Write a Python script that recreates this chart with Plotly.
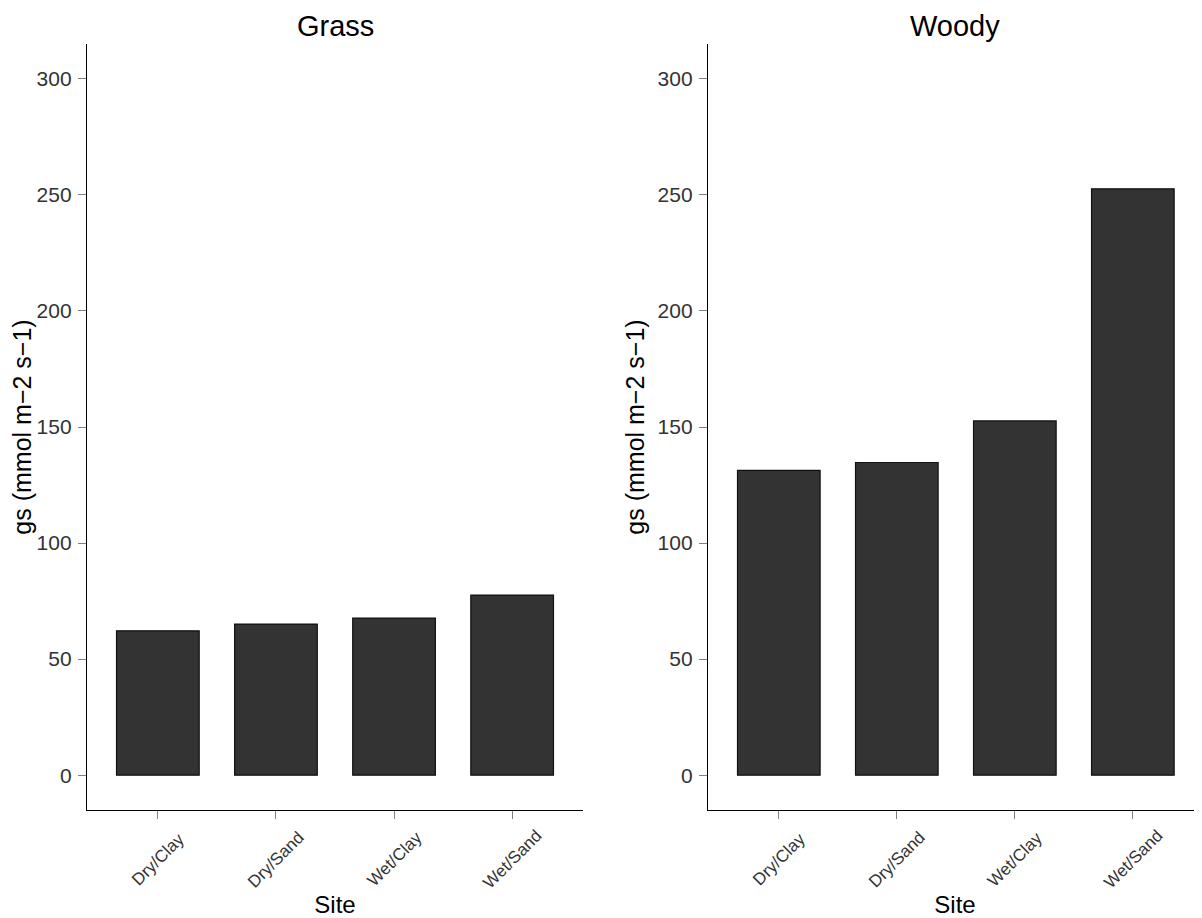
import plotly.graph_objects as go

sites = ["Dry/Clay", "Dry/Sand", "Wet/Clay", "Wet/Sand"]
grass_gs = [62.2, 65.1, 67.7, 77.6]
woody_gs = [131.3, 134.7, 152.6, 252.6]
panel_titles = ["Grass", "Woody"]
y_ticks = [0, 50, 100, 150, 200, 250, 300]
x_title = "Site"
y_title = "gs (mmol m\u22122 s\u22121)"

# page has an 8px body margin; figure sized to fill the rest of the window
OFF = 8
W, H = 1202 - OFF, 918 - OFF
FONT = "Liberation Sans, Arial, sans-serif"


def py(page_y):
    """page pixel y -> paper fraction"""
    return (H - (page_y - OFF)) / H


fig = go.Figure()
for vals, xa, ya in [(grass_gs, "x", "y"), (woody_gs, "x2", "y2")]:
    fig.add_trace(go.Bar(x=sites, y=vals, width=0.7, xaxis=xa, yaxis=ya,
                         marker=dict(color="#333333", line=dict(color="#111111", width=1.2)),
                         showlegend=False))

ydom = [py(810), py(44)]
xdom1 = [(87 - OFF) / W, (583 - OFF) / W]
xdom2 = [(708 - OFF) / W, 1.0]

xcommon = dict(type="category", showline=True, linecolor="black", linewidth=1.3,
               ticks="outside", ticklen=8, tickcolor="#7f7f7f", tickwidth=1.3,
               showticklabels=False, showgrid=False, zeroline=False,
               title=dict(text=x_title, font=dict(family=FONT, size=24, color="black"), standoff=78))
ycommon = dict(range=[-15, 315], tickvals=y_ticks, showline=True, linecolor="black", linewidth=1.3,
               ticks="outside", ticklen=8, tickcolor="#7f7f7f", tickwidth=1.3,
               tickfont=dict(family=FONT, size=21, color="#333333"),
               showgrid=False, zeroline=False, ticklabelstandoff=2,
               title=dict(text=y_title, font=dict(family=FONT, size=25, color="black"), standoff=5))

annotations = []
for i, (t, dom) in enumerate(zip(panel_titles, [xdom1, xdom2])):
    annotations.append(dict(text=t, x=(dom[0] + dom[1]) / 2, y=py(26), xref="paper", yref="paper",
                            showarrow=False, font=dict(family=FONT, size=29, color="black"),
                            xanchor="center", yanchor="middle"))
for xa in ["x", "x2"]:
    for s in sites:
        annotations.append(dict(text=s, x=s, xref=xa, y=py(859), yref="paper", textangle=-45,
                                showarrow=False, font=dict(family=FONT, size=17, color="#333333"),
                                xanchor="center", yanchor="middle"))

fig.update_layout(
    width=W, height=H,
    margin=dict(l=0, r=0, t=0, b=0),
    plot_bgcolor="white", paper_bgcolor="white",
    xaxis=dict(domain=xdom1, anchor="y", range=[-0.6, 3.6], **xcommon),
    yaxis=dict(domain=ydom, anchor="x", **ycommon),
    xaxis2=dict(domain=xdom2, anchor="y2", range=[-0.6, 3.586], **xcommon),
    yaxis2=dict(domain=ydom, anchor="x2", **ycommon),
    annotations=annotations,
)

fig.write_html("out.html")
